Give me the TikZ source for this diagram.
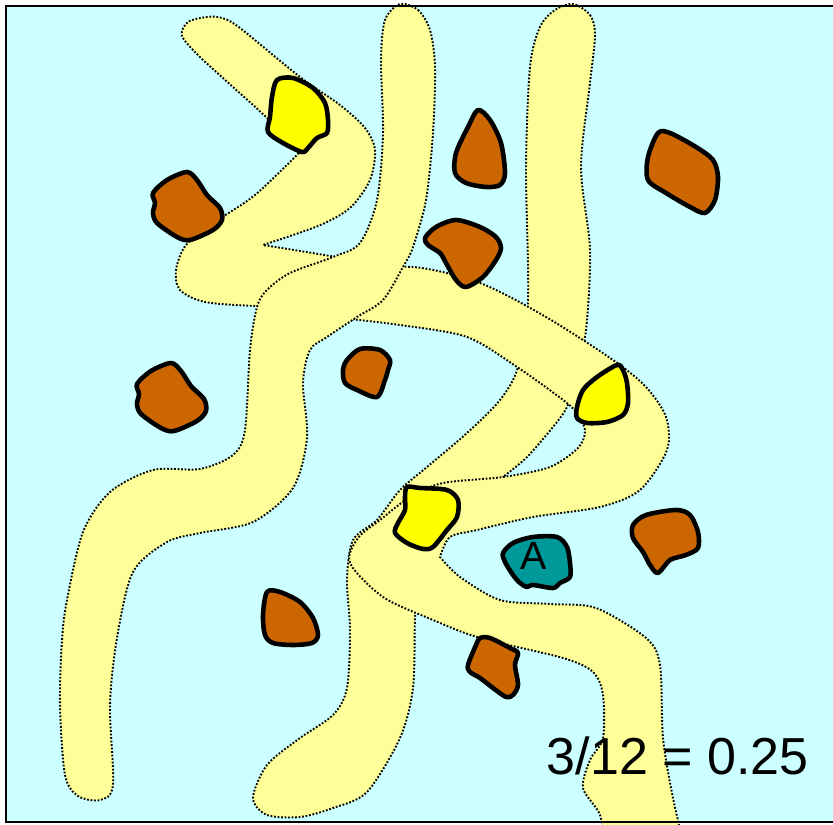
\documentclass[tikz,border=0pt]{standalone}
\usepackage{fontspec}
\setmainfont{Liberation Sans}
\definecolor{sea}{HTML}{CCFFFF}
\definecolor{sand}{HTML}{FFFF99}
\definecolor{rust}{HTML}{CC6600}
\definecolor{gold}{HTML}{FFFF00}
\definecolor{lagoon}{HTML}{009999}

\begin{document}
\begin{tikzpicture}[x=0.01cm,y=-0.01cm,
  band/.style={fill=sand,draw=black,line width=0.55pt,dash pattern=on 0.5pt off 0.5pt},
  blob/.style={draw=black,line width=1.3pt,line join=round},
  brn/.style={blob,fill=rust},
  yel/.style={blob,fill=gold}]
\useasboundingbox (0,0) rectangle (833,825);
\fill[sea] (6,6) rectangle (840,822);
% pale bands, back to front
\draw[band] plot[smooth cycle,tension=0.5] coordinates {(573,4) (590,15) (595,35) (590,83) (581,167) (590,250) (586,330) (575,380) (567,407) (553,427) (527,457) (503,477) (460,510) (430,545) (418,590) (415,618) (413,688) (400,738) (367,792) (333,808) (300,817) (267,815) (253,798) (267,765) (300,738) (333,715) (347,688) (350,630) (347,580) (353,540) (377,520) (400,490) (427,467) (467,433) (500,400) (518,367) (528,300) (526,167) (530,67) (540,27) (555,10)};
\draw[band] plot[smooth,tension=0.5] coordinates {(300,152) (267,118) (233,87) (200,57) (182,36) (188,22) (207,17) (222,18) (240,28) (300,77) (340,105) (365,128) (375,150) (370,180) (350,208) (318,226) (263,245)}
  -- plot[smooth,tension=0.5] coordinates {(263,245) (300,251) (335,257) (365,265) (362,298) (300,305) (257,306) (205,302) (180,290) (176,270) (186,245) (215,222) (255,195) (300,152)} -- cycle;
\draw[band] plot[smooth,tension=0.5] coordinates {(345,272) (413,267) (480,283) (546,317) (613,360) (646,387) (666,417) (667,450) (640,490) (600,507) (533,517) (477,530) (450,537) (440,557)}
  -- plot[smooth,tension=0.5] coordinates {(440,557) (460,577) (500,600) (550,604) (596,608) (646,638) (660,665) (663,738) (673,798) (685,850)}
  -- plot[smooth,tension=0.5] coordinates {(605,850) (600,815) (583,788) (590,760) (603,738) (603,695) (593,672) (563,658) (480,638) (433,620) (383,597) (350,563) (358,538) (380,520) (410,497) (443,483) (503,477) (550,467) (578,448) (585,432) (580,418) (567,403) (517,367) (467,337) (400,325) (340,318)} -- cycle;
\draw[band] plot[smooth cycle,tension=0.5] coordinates {(400,4) (418,10) (430,30) (435,67) (433,133) (426,200) (413,247) (403,267) (383,300) (357,317) (327,337) (310,350) (303,383) (307,438) (293,488) (253,522) (200,533) (167,542) (133,572) (117,638) (110,705) (113,785) (100,800) (78,796) (65,775) (60,705) (62,640) (67,600) (83,532) (110,492) (153,470) (200,469) (233,455) (245,430) (250,350) (257,307) (267,290) (290,273) (333,257) (360,243) (377,200) (383,133) (381,60) (385,20)};
% blobs
\draw[yel] plot[smooth cycle] coordinates {(277,80) (293,78) (313,88) (325,103) (328,120) (327,133) (317,138) (308,148) (302,152) (283,143) (268,132) (270,117) (272,97)};
\draw[yel] plot[smooth cycle] coordinates {(617,365) (623,370) (627,383) (628,403) (623,415) (607,422) (587,423) (577,418) (577,407) (583,390) (597,377)};
\draw[yel] plot[smooth cycle] coordinates {(407,487) (420,488) (447,490) (458,500) (457,517) (447,530) (433,547) (423,549) (407,543) (395,533) (398,523) (405,510) (405,497)};
\draw[brn] plot[smooth cycle] coordinates {(153,193) (167,180) (187,172) (197,180) (207,195) (220,208) (222,220) (213,230) (190,240) (177,237) (157,223) (153,213) (155,203)};
\draw[brn] plot[smooth cycle] coordinates {(137,384) (151,371) (171,363) (181,371) (191,386) (204,399) (206,411) (197,421) (174,431) (161,428) (141,414) (137,404) (139,394)};
\draw[brn] plot[smooth cycle] coordinates {(347,360) (360,349) (380,350) (390,360) (388,370) (385,380) (377,397) (357,390) (345,383) (343,370)};
\draw[brn] plot[smooth cycle] coordinates {(478,110) (490,120) (501,143) (505,173) (500,185) (486,187) (466,183) (455,173) (456,153) (468,127)};
\draw[brn] plot[smooth cycle] coordinates {(658,133) (670,133) (696,147) (713,160) (718,177) (715,200) (705,213) (690,207) (666,193) (648,180) (648,157)};
\draw[brn] plot[smooth cycle] coordinates {(425,238) (436,227) (456,220) (480,227) (496,237) (501,248) (496,260) (483,277) (466,287) (456,280) (446,263) (440,253) (428,245)};
\draw[brn] plot[smooth cycle] coordinates {(633,525) (646,515) (676,510) (690,515) (698,532) (698,548) (686,555) (670,560) (658,573) (650,565) (643,552) (633,538)};
\draw[brn] plot[smooth cycle] coordinates {(267,592) (280,592) (300,602) (313,618) (318,635) (312,643) (293,645) (273,643) (265,635) (263,615)};
\draw[brn] plot[smooth cycle] coordinates {(480,638) (490,638) (510,648) (518,653) (515,665) (518,685) (513,695) (506,697) (493,688) (480,678) (470,672) (468,665) (476,645)};
\draw[blob,fill=lagoon] plot[smooth cycle] coordinates {(503,553) (513,543) (533,537) (557,537) (567,547) (570,563) (570,577) (560,583) (553,588) (533,585) (527,587) (520,583) (513,575) (505,562)};
\node[inner sep=0,font=\fontsize{11.2}{13}\selectfont] (a) at (534,556) {A};
\node[inner sep=0,anchor=base west,font=\fontsize{14.8}{17}\selectfont] (ratio) at (546,775) {3/12 = 0.25};
\draw[line width=0.6pt] (6,6) rectangle (840,822);
\end{tikzpicture}
\end{document}
